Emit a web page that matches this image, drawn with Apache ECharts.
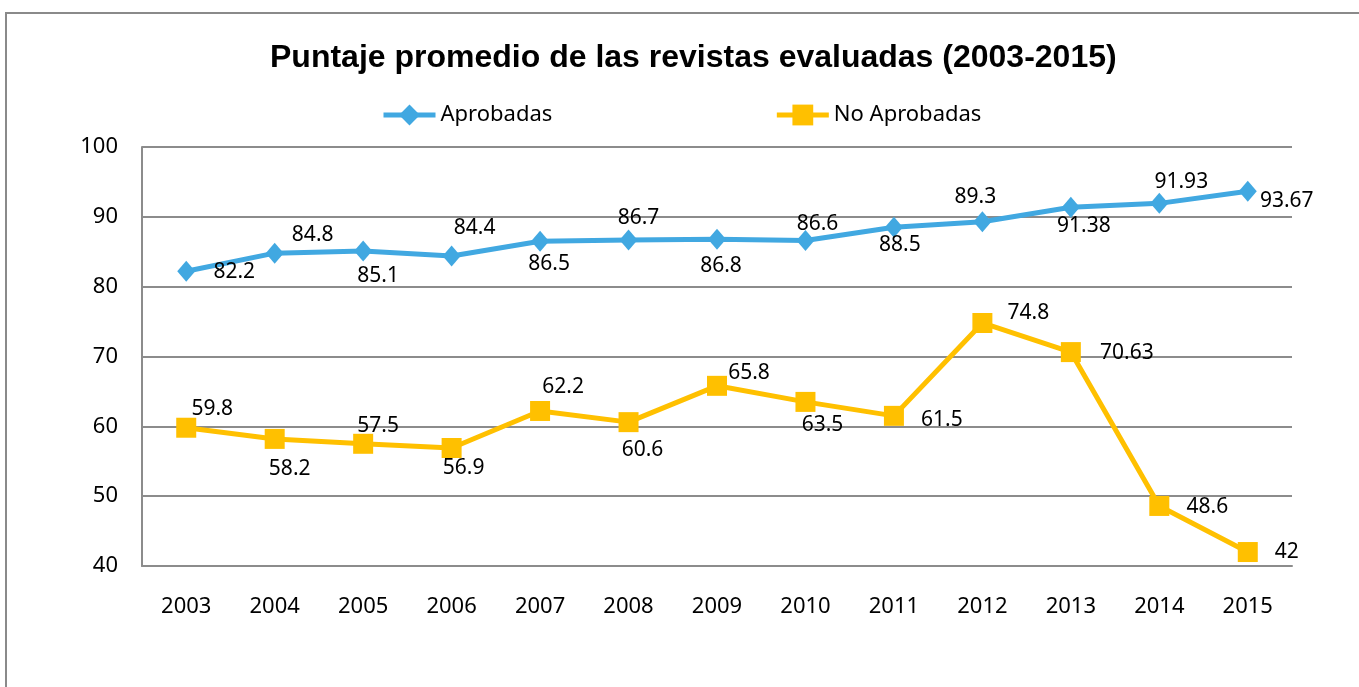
<!DOCTYPE html>
<html>
<head>
<meta charset="utf-8">
<script src="https://cdn.jsdelivr.net/npm/echarts@6/dist/echarts.min.js"></script>
<style>
  html, body { margin: 0; padding: 0; background: #fff; }
  #chart { width: 1359px; height: 687px; }
</style>
</head>
<body>
<div id="chart"></div>
<script>
// chart values
const years = ['2003', '2004', '2005', '2006', '2007', '2008', '2009', '2010', '2011', '2012', '2013', '2014', '2015'];
const aprobadas = [82.2, 84.8, 85.1, 84.4, 86.5, 86.7, 86.8, 86.6, 88.5, 89.3, 91.38, 91.93, 93.67];
const noAprobadas = [59.8, 58.2, 57.5, 56.9, 62.2, 60.6, 65.8, 63.5, 61.5, 74.8, 70.63, 48.6, 42];

// where each data label sits relative to its marker (dx, dy in px)
const offsetsA = [[48, 1], [38, -18], [15, 25], [23, -28], [9, 23], [10, -22], [4, 27], [12, -17], [6, 18], [-7, -25], [13, 19], [22, -21], [39, 10]];
const offsetsB = [[26, -19], [15, 30], [15, -18], [12, 20], [23, -24], [14, 28], [32, -13], [17, 23], [48, 4], [46, -10], [56, 1], [48, 1], [39, 0]];

const BLUE = '#41a8e1';
const GOLD = '#ffc000';
const GRID = '#8c8c8c';
const FONT = '"Noto Sans", sans-serif';

const withLabels = (values, offsets) =>
  values.map((v, i) => ({
    value: v,
    label: { offset: offsets[i] },
  }));

const chart = echarts.init(document.getElementById('chart'));

const option = {
  animation: false,
  backgroundColor: '#fff',
  textStyle: { fontFamily: FONT, color: '#000' },
  graphic: [
    {
      type: 'rect',
      shape: { x: 6, y: 13, width: 1400, height: 700 },
      style: { fill: 'none', stroke: '#8a8a8a', lineWidth: 2 },
      silent: true,
    },
  ],
  title: {
    text: 'Puntaje promedio de las revistas evaluadas (2003-2015)',
    left: 265,
    top: 33,
    textStyle: {
      fontFamily: '"Liberation Sans", Arial, sans-serif',
      fontWeight: 'bold',
      fontSize: 32,
      lineHeight: 40,
      color: '#000',
    },
  },
  legend: {
    left: 376,
    top: 99,
    itemWidth: 52,
    itemHeight: 26,
    itemGap: 222,
    lineStyle: { width: 5 },
    textStyle: { fontFamily: FONT, fontSize: 22, color: '#000' },
    data: ['Aprobadas', 'No Aprobadas'],
  },
  grid: {
    left: 142,
    right: 67,
    top: 147,
    bottom: 121,
  },
  xAxis: {
    type: 'category',
    data: years,
    boundaryGap: true,
    axisLine: { lineStyle: { color: GRID, width: 2 } },
    axisTick: { show: false },
    axisLabel: { fontFamily: FONT, fontSize: 22, color: '#000', margin: 30, lineHeight: 22 },
  },
  yAxis: {
    type: 'value',
    min: 40,
    max: 100,
    interval: 10,
    axisLine: { show: true, lineStyle: { color: GRID, width: 2 } },
    axisTick: { show: false },
    axisLabel: { fontFamily: FONT, fontSize: 22, color: '#000', margin: 24 },
    splitLine: { lineStyle: { color: GRID, width: 2 } },
  },
  series: [
    {
      name: 'Aprobadas',
      type: 'line',
      data: withLabels(aprobadas, offsetsA),
      symbol: 'diamond',
      symbolSize: [18, 21],
      color: BLUE,
      lineStyle: { color: BLUE, width: 5 },
      itemStyle: { color: BLUE },
      label: {
        show: true,
        position: 'inside',
        fontFamily: FONT,
        fontSize: 21,
        color: '#000',
      },
      z: 3,
    },
    {
      name: 'No Aprobadas',
      type: 'line',
      data: withLabels(noAprobadas, offsetsB),
      symbol: 'rect',
      symbolSize: 20,
      color: GOLD,
      lineStyle: { color: GOLD, width: 5 },
      itemStyle: { color: GOLD },
      label: {
        show: true,
        position: 'inside',
        fontFamily: FONT,
        fontSize: 21,
        color: '#000',
      },
      z: 2,
    },
  ],
};

chart.setOption(option);
</script>
</body>
</html>
